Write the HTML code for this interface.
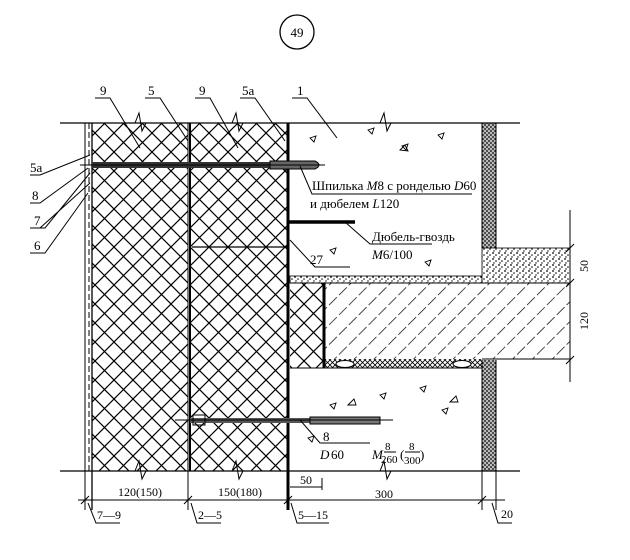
<!DOCTYPE html>
<html><head><meta charset="utf-8"><style>
html,body{margin:0;padding:0;background:#fff;}
svg{display:block;}
text{font-family:"Liberation Serif",serif;fill:#000;}
</style></head><body>
<svg width="630" height="560" viewBox="0 0 630 560" xmlns="http://www.w3.org/2000/svg">
<defs>
<pattern id="xh" width="19" height="19" patternUnits="userSpaceOnUse">
<path d="M0 0L19 19M19 0L0 19" stroke="#000" stroke-width="1.2"/>
</pattern>
<pattern id="fx" width="5" height="5" patternUnits="userSpaceOnUse">
<path d="M0 0L5 5M5 0L0 5" stroke="#000" stroke-width="0.8"/>
</pattern>
<pattern id="hs" width="14" height="14" patternUnits="userSpaceOnUse" patternTransform="rotate(45)">
<path d="M0 0V14" stroke="#000" stroke-width="1.4" stroke-dasharray="11 3"/>
</pattern>
<pattern id="st" width="6" height="6" patternUnits="userSpaceOnUse">
<rect width="6" height="6" fill="#fff"/>
<circle cx="1" cy="1" r="0.9" fill="#000"/><circle cx="4" cy="3" r="0.8" fill="#000"/><circle cx="2" cy="5" r="0.7" fill="#000"/>
</pattern>
<pattern id="st2" width="4" height="4" patternUnits="userSpaceOnUse">
<rect width="4" height="4" fill="#bbb"/>
<circle cx="1" cy="1" r="0.9" fill="#000"/><circle cx="3" cy="3" r="0.9" fill="#000"/>
</pattern>
</defs>

<circle cx="297" cy="32" r="17" fill="none" stroke="#000" stroke-width="1.3"/>
<text x="297" y="37" font-size="13" text-anchor="middle">49</text>

<!-- insulation layers -->
<rect x="92" y="123" width="96" height="348" fill="url(#xh)"/>
<rect x="190" y="123" width="98" height="348" fill="url(#xh)"/>
<line x1="192" y1="247" x2="288" y2="247" stroke="#000" stroke-width="1.2"/>

<!-- brick strip -->
<rect x="482" y="123" width="14" height="125" fill="url(#st2)"/>
<rect x="482" y="360" width="14" height="111" fill="url(#st2)"/>

<!-- slab -->
<rect x="290" y="276" width="192" height="7" fill="url(#st)" stroke="#000" stroke-width="0.8"/>
<rect x="482" y="248" width="88" height="35" fill="url(#st)" stroke="#000" stroke-width="0.8"/>
<rect x="290" y="283" width="33" height="85" fill="url(#xh)"/>
<rect x="325" y="283" width="245" height="76" fill="url(#hs)"/>
<rect x="325" y="359" width="157" height="9" fill="url(#fx)"/>
<ellipse cx="345" cy="364" rx="9" ry="3.5" fill="#fff" stroke="#000"/>
<ellipse cx="462" cy="364" rx="9" ry="3.5" fill="#fff" stroke="#000"/>
<path d="M290 283H570V359H482M290 368H482" fill="none" stroke="#000" stroke-width="1"/>
<line x1="324" y1="283" x2="324" y2="368" stroke="#000" stroke-width="3"/>

<!-- concrete aggregate marks -->
<g fill="none" stroke="#000" stroke-width="0.9">
<path d="M310 138l6 -2l-2 6zM368 130l6 -2l-2 6zM402 146l6 -2l-2 6zM438 135l6 -2l-2 6zM330 250l6 -2l-2 6zM425 262l6 -2l-2 6zM400 150l5 -5l3 6z"/>
<path d="M330 405l6 -2l-2 6zM348 405l6 -6l2 6zM420 388l6 -2l-2 6zM450 402l6 -6l2 6zM308 438l6 -2l-2 6zM442 410l6 -2l-2 6zM380 395l6 -2l-2 6z"/>
</g>

<!-- main lines -->
<line x1="60" y1="123" x2="520" y2="123" stroke="#000" stroke-width="1.2"/>
<line x1="60" y1="471" x2="520" y2="471" stroke="#000" stroke-width="1.2"/>
<line x1="85" y1="123" x2="85" y2="510" stroke="#000" stroke-width="1"/>
<line x1="89" y1="123" x2="89" y2="471" stroke="#000" stroke-width="1" stroke-dasharray="6 3"/>
<line x1="92" y1="123" x2="92" y2="510" stroke="#000" stroke-width="1.3"/>
<line x1="188" y1="123" x2="188" y2="510" stroke="#000" stroke-width="1"/>
<line x1="190" y1="123" x2="190" y2="471" stroke="#000" stroke-width="2"/>
<line x1="288" y1="123" x2="288" y2="510" stroke="#000" stroke-width="3"/>
<line x1="482" y1="123" x2="482" y2="248" stroke="#000"/>
<line x1="496" y1="123" x2="496" y2="248" stroke="#000"/>
<line x1="482" y1="360" x2="482" y2="510" stroke="#000"/>
<line x1="496" y1="360" x2="496" y2="510" stroke="#000"/>
<!-- break marks -->
<path d="M135 123l4 -10l3 18l4 -8M232 123l4 -10l3 18l4 -8M380 123l4 -10l3 18l4 -8M232 471l4 -10l3 18l4 -8M135 471l4 -10l3 18l4 -8M380 471l4 -10l3 18l4 -8" fill="none" stroke="#000"/>

<!-- anchors -->
<rect x="92" y="162" width="220" height="6" fill="#333"/>
<path d="M270 161h45q8 4 0 8h-45z" fill="#666" stroke="#000"/>
<line x1="80" y1="165" x2="325" y2="165" stroke="#000"/>
<line x1="288" y1="222" x2="355" y2="222" stroke="#000" stroke-width="3.5"/>
<rect x="190" y="418" width="135" height="5" fill="#555"/>
<path d="M310 417h70v7h-70z" fill="#777" stroke="#000"/>
<line x1="175" y1="420" x2="393" y2="420" stroke="#000"/>
<rect x="193" y="415" width="12" height="10" fill="none" stroke="#000"/>

<!-- leaders -->
<g stroke="#000" fill="none" stroke-width="1">
<path d="M95 98h15l30 50M145 98h15l28 43M195 98h15l28 50M240 98h15l30 43M292 98h15l30 40"/>
<path d="M30 175h10l50 -20M30 203h10l48 -35M30 228h15l45 -55M40 228l50 -45M30 253h15l43 -60"/>
<path d="M300 166l12 28h160M345 222l25 22h62M290 240l25 27h35"/>
<path d="M300 420l20 23h50"/>
</g>
<g font-size="13">
<text x="100" y="95">9</text><text x="148" y="95">5</text><text x="199" y="95">9</text>
<text x="242" y="95">5a</text><text x="297" y="95">1</text>
<text x="30" y="172">5a</text><text x="32" y="200">8</text><text x="34" y="225">7</text><text x="34" y="250">6</text>
<text x="312" y="190">Шпилька <tspan font-style="italic">M</tspan>8 с ронделью <tspan font-style="italic">D</tspan>60</text>
<text x="310" y="208">и дюбелем <tspan font-style="italic">L</tspan>120</text>
<text x="372" y="241">Дюбель-гвоздь</text>
<text x="372" y="259"><tspan font-style="italic">M</tspan>6/100</text>
<text x="310" y="264">27</text>
<text x="323" y="441">8</text>
<text x="320" y="459" font-style="italic">D</text><text x="331" y="459">60</text>
<text x="372" y="459" font-style="italic">M</text>
<text x="385" y="450" font-size="11">8</text><line x1="384" y1="452" x2="396" y2="452" stroke="#000"/>
<text x="381" y="463" font-size="11">260</text>
<text x="400" y="459">(</text>
<text x="409" y="450" font-size="11">8</text><line x1="405" y1="452" x2="420" y2="452" stroke="#000"/>
<text x="404" y="464" font-size="11">300</text>
<text x="420" y="459">)</text>
</g>

<!-- right dimension -->
<line x1="570" y1="210" x2="570" y2="382" stroke="#000"/>
<path d="M566 252l8 -8M566 287l8 -8M566 364l8 -8" stroke="#000"/>
<text font-size="12" transform="translate(588 272) rotate(-90)">50</text>
<text font-size="12" transform="translate(588 330) rotate(-90)">120</text>

<!-- bottom dimensions -->
<line x1="78" y1="500" x2="505" y2="500" stroke="#000"/>
<path d="M81 504l8 -8M184 504l8 -8M284 504l8 -8M478 504l8 -8" stroke="#000"/>
<line x1="290" y1="487" x2="322" y2="487" stroke="#000"/>
<line x1="322" y1="478" x2="322" y2="490" stroke="#000"/>
<g font-size="12">
<text x="118" y="496">120(150)</text>
<text x="218" y="496">150(180)</text>
<text x="375" y="498">300</text>
<text x="300" y="484">50</text>
<text x="97" y="519">7—9</text>
<text x="198" y="519">2—5</text>
<text x="298" y="519">5—15</text>
<text x="501" y="518">20</text>
</g>
<path d="M88 503l8 20h24M191 503l6 20h24M291 503l6 20h32M492 503l6 20h14" fill="none" stroke="#000"/>
</svg>
</body></html>
